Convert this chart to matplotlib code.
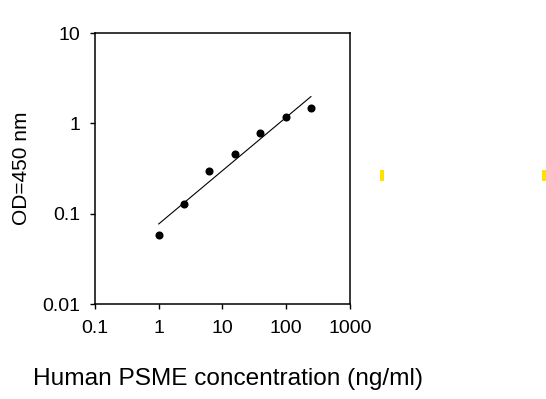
import numpy as np
import matplotlib
matplotlib.use("Agg")
import matplotlib.pyplot as plt
from matplotlib.patches import Rectangle

plt.rcParams['font.family'] = ['Liberation Sans', 'DejaVu Sans']

# Standard curve data
conc = [1.0, 2.5, 6.25, 15.6, 39.0, 97.6, 244.0]
od = [0.058, 0.127, 0.30, 0.46, 0.78, 1.18, 1.49]

x_ticks = [0.1, 1, 10, 100, 1000]
x_tick_labels = ["0.1", "1", "10", "100", "1000"]
y_ticks = [0.01, 0.1, 1, 10]
y_tick_labels = ["0.01", "0.1", "1", "10"]

# Linear fit in log-log space
slope, intercept = np.polyfit(np.log10(conc), np.log10(od), 1)
fit_x = np.array([min(conc), max(conc)])
fit_y = 10 ** (intercept + slope * np.log10(fit_x))

fig = plt.figure(figsize=(5.46, 3.99), dpi=100)
ax = fig.add_axes([0.174, 0.238, 0.467, 0.679])

ax.plot(fit_x, fit_y, color="black", linewidth=0.8)
ax.plot(conc, od, "o", color="black", markersize=4.8)

ax.set_xscale("log")
ax.set_yscale("log")
ax.set_xlim(0.1, 1000)
ax.set_ylim(0.01, 10)

ax.set_xticks(x_ticks)
ax.set_xticklabels(x_tick_labels)
ax.set_yticks(y_ticks)
ax.set_yticklabels(y_tick_labels)
ax.minorticks_off()

ax.tick_params(axis="both", direction="out", length=3.5, width=1, labelsize=14)
ax.tick_params(axis="x", pad=8)
ax.tick_params(axis="y", pad=7)

for s in ax.spines.values():
    s.set_linewidth(1.1)

ax.set_xlabel("Human PSME concentration (ng/ml)", fontsize=17.6)
ax.xaxis.set_label_coords(0.52, -0.235)
ax.set_ylabel("OD=450 nm", fontsize=15)
ax.yaxis.set_label_coords(-0.25, 0.5)

# small yellow marks at the right of the picture
for px in [380, 542]:
    fig.patches.append(Rectangle((px / 546, 1 - 181 / 399), 4 / 546, 11 / 399,
                                 transform=fig.transFigure, color="#FFE100",
                                 linewidth=0))

fig.savefig("out.png", dpi=100)
